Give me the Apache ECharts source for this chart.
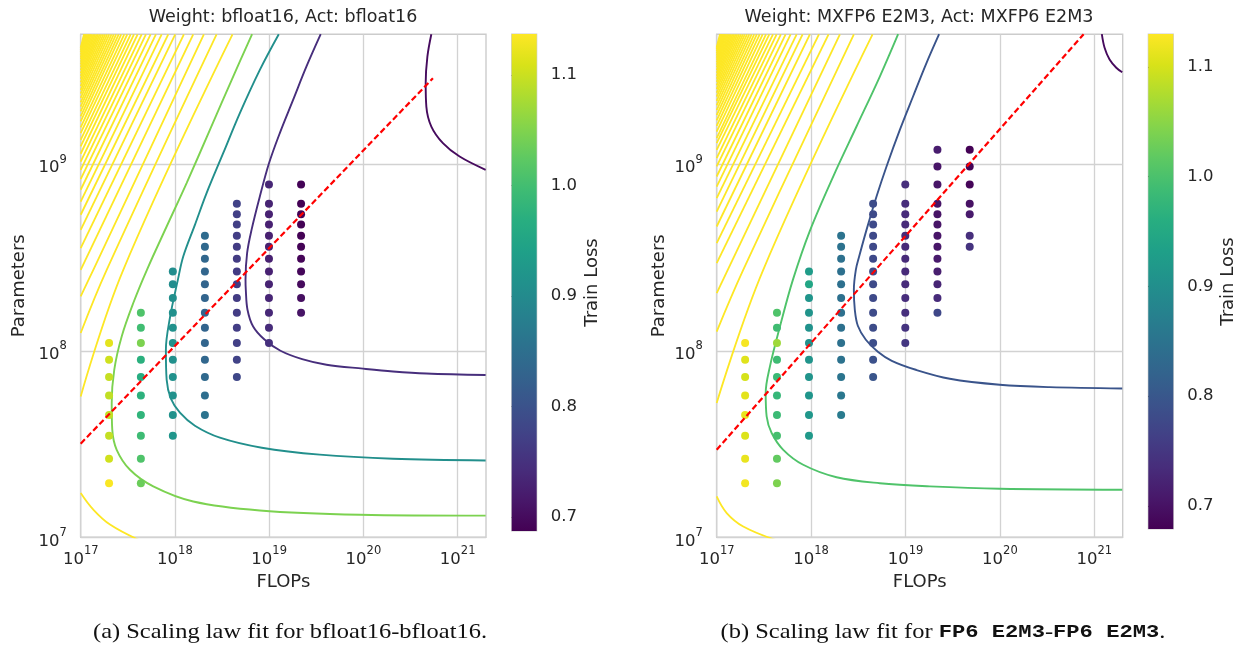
<!DOCTYPE html>
<html><head><meta charset="utf-8">
<script src="https://cdn.jsdelivr.net/npm/echarts@6.0.0/dist/echarts.min.js"></script>
<style>html,body{margin:0;padding:0;background:#fff}#chart{width:1242px;height:646px}</style>
</head><body><div id="chart"></div>
<script>
// ---------- measured runs: FLOPs budget per column, model sizes and final train loss ----------
const flops = [2.0e17, 4.35e17, 9.5e17, 2.08e18, 4.54e18, 9.95e18, 2.18e19, 4.79e19];

const paramsA = [
  [1.10e8, 8.95e7, 7.23e7, 5.76e7, 4.52e7, 3.50e7, 2.64e7, 1.95e7],
  [1.60e8, 1.33e8, 1.10e8, 8.95e7, 7.23e7, 5.76e7, 4.52e7, 3.50e7, 2.64e7, 1.95e7],
  [2.66e8, 2.27e8, 1.92e8, 1.60e8, 1.33e8, 1.10e8, 8.95e7, 7.23e7, 5.76e7, 4.52e7, 3.50e7],
  [4.13e8, 3.61e8, 3.11e8, 2.66e8, 2.27e8, 1.92e8, 1.60e8, 1.33e8, 1.10e8, 8.95e7, 7.23e7, 5.76e7, 4.52e7],
  [6.14e8, 5.40e8, 4.75e8, 4.13e8, 3.61e8, 3.11e8, 2.66e8, 2.27e8, 1.92e8, 1.60e8, 1.33e8, 1.10e8, 8.95e7, 7.23e7],
  [7.78e8, 6.14e8, 5.40e8, 4.75e8, 4.13e8, 3.61e8, 3.11e8, 2.66e8, 2.27e8, 1.92e8, 1.60e8, 1.33e8, 1.10e8],
  [7.78e8, 6.14e8, 5.40e8, 4.75e8, 4.13e8, 3.61e8, 3.11e8, 2.66e8, 2.27e8, 1.92e8, 1.60e8]
];
const lossA = [
  [1.118, 1.103, 1.097, 1.094, 1.094, 1.096, 1.104, 1.135],
  [1.011, 0.998, 1.047, 0.972, 0.966, 0.975, 0.980, 0.995, 1.011, 1.034],
  [0.905, 0.905, 0.908, 0.910, 0.912, 0.915, 0.910, 0.912, 0.913, 0.915, 0.920],
  [0.842, 0.838, 0.835, 0.833, 0.831, 0.830, 0.829, 0.830, 0.832, 0.835, 0.840, 0.848, 0.858],
  [0.775, 0.772, 0.770, 0.768, 0.766, 0.765, 0.764, 0.764, 0.765, 0.766, 0.768, 0.771, 0.776, 0.783],
  [0.735, 0.731, 0.729, 0.728, 0.727, 0.727, 0.727, 0.728, 0.730, 0.733, 0.737, 0.742, 0.748],
  [0.690, 0.689, 0.688, 0.688, 0.689, 0.690, 0.692, 0.695, 0.699, 0.704, 0.710]
];

const paramsB = [
  [1.10e8, 8.95e7, 7.23e7, 5.76e7, 4.52e7, 3.50e7, 2.64e7, 1.95e7],
  [1.60e8, 1.33e8, 1.10e8, 8.95e7, 7.23e7, 5.76e7, 4.52e7, 3.50e7, 2.64e7, 1.95e7],
  [2.66e8, 2.27e8, 1.92e8, 1.60e8, 1.33e8, 1.10e8, 8.95e7, 7.23e7, 5.76e7, 4.52e7, 3.50e7],
  [4.13e8, 3.61e8, 3.11e8, 2.66e8, 2.27e8, 1.92e8, 1.60e8, 1.33e8, 1.10e8, 8.95e7, 7.23e7, 5.76e7, 4.52e7],
  [6.14e8, 5.40e8, 4.75e8, 4.13e8, 3.61e8, 3.11e8, 2.66e8, 2.27e8, 1.92e8, 1.60e8, 1.33e8, 1.10e8, 8.95e7, 7.23e7],
  [7.78e8, 6.14e8, 5.40e8, 4.75e8, 4.13e8, 3.61e8, 3.11e8, 2.66e8, 2.27e8, 1.92e8, 1.60e8, 1.33e8, 1.10e8],
  [1.195e9, 9.72e8, 7.78e8, 6.14e8, 5.40e8, 4.75e8, 4.13e8, 3.61e8, 3.11e8, 2.66e8, 2.27e8, 1.92e8, 1.60e8],
  [1.195e9, 9.72e8, 7.78e8, 6.14e8, 5.40e8, 4.13e8, 3.61e8]
];
const lossB = [
  [1.125, 1.108, 1.100, 1.110, 1.115, 1.105, 1.115, 1.122],
  [1.004, 0.990, 1.063, 0.988, 0.983, 0.978, 0.985, 0.995, 1.020, 1.040],
  [0.925, 0.945, 0.912, 0.910, 0.906, 0.904, 0.910, 0.910, 0.912, 0.915, 0.920],
  [0.850, 0.848, 0.846, 0.845, 0.845, 0.844, 0.844, 0.845, 0.846, 0.848, 0.852, 0.857, 0.864],
  [0.782, 0.780, 0.779, 0.778, 0.778, 0.778, 0.779, 0.779, 0.780, 0.781, 0.783, 0.786, 0.790, 0.797],
  [0.738, 0.735, 0.733, 0.732, 0.731, 0.731, 0.731, 0.732, 0.733, 0.735, 0.739, 0.744, 0.750],
  [0.713, 0.703, 0.705, 0.703, 0.702, 0.703, 0.704, 0.706, 0.710, 0.716, 0.724, 0.733, 0.775],
  [0.680, 0.681, 0.684, 0.700, 0.710, 0.738, 0.745]
];

// colour range of each colorbar (train loss)
const lossRangeA = [0.6873, 1.1371];
const lossRangeB = [0.6790, 1.1300];
const cbarTicks = [0.7, 0.8, 0.9, 1.0, 1.1];

// axis ranges and decade ticks
const flopsRange = [1e17, 2e21];
const paramsRange = [1e7, 4.97e9];
const flopsTicks = [1e17, 1e18, 1e19, 1e20, 1e21];
const paramsTicks = [1e7, 1e8, 1e9];

// ---------- fitted iso-loss contours, points as [log10 FLOPs, log10 params] ----------
const contourLevelsA = [0.700, 0.745, 0.908, 1.047];
const contourA0 = [[20.721,9.697],[20.679,9.577],[20.661,9.435],[20.668,9.309],[20.721,9.202],[20.844,9.113],[21.021,9.041],[21.297,8.970]];
const contourA1 = [[19.547,9.697],[19.396,9.524],[19.254,9.345],[19.113,9.167],[18.999,9.006],[18.901,8.827],[18.813,8.648],[18.766,8.524],[18.749,8.380],[18.752,8.327],[18.770,8.220],[18.830,8.130],[18.950,8.060],[19.120,8.000],[19.350,7.955],[19.608,7.925],[19.996,7.904],[20.314,7.889],[20.668,7.878],[21.297,7.870]];
const contourA2 = [[19.102,9.697],[18.901,9.506],[18.689,9.274],[18.512,9.059],[18.336,8.845],[18.212,8.675],[18.088,8.505],[18.031,8.380],[17.947,8.177],[17.904,8.005],[17.912,7.845],[17.957,7.743],[18.053,7.668],[18.212,7.598],[18.477,7.534],[18.922,7.480],[19.537,7.443],[20.314,7.421],[21.297,7.412]];
const contourA3 = [[18.819,9.697],[18.618,9.470],[18.371,9.184],[18.124,8.899],[17.912,8.666],[17.703,8.434],[17.558,8.256],[17.435,8.077],[17.356,7.898],[17.329,7.720],[17.335,7.577],[17.382,7.469],[17.523,7.362],[17.770,7.273],[18.194,7.192],[18.901,7.144],[19.961,7.121],[21.297,7.116]];

const contourLevelsB = [0.690, 0.795, 1.004];
const contourB0 = [[21.080,9.697],[21.109,9.624],[21.162,9.561],[21.233,9.517],[21.296,9.493]];
const contourB1 = [[19.356,9.697],[19.222,9.542],[19.080,9.363],[18.940,9.184],[18.799,8.988],[18.693,8.827],[18.587,8.648],[18.509,8.505],[18.474,8.434],[18.453,8.327],[18.463,8.220],[18.495,8.134],[18.580,8.059],[18.707,7.995],[18.855,7.946],[19.109,7.898],[19.469,7.850],[19.998,7.818],[20.527,7.805],[21.296,7.798]];
const contourB2 = [[18.922,9.697],[18.728,9.470],[18.481,9.202],[18.234,8.934],[17.987,8.643],[17.807,8.380],[17.670,8.130],[17.564,7.916],[17.519,7.773],[17.529,7.648],[17.582,7.559],[17.705,7.469],[17.916,7.389],[18.270,7.322],[18.728,7.290],[19.257,7.273],[19.998,7.260],[21.296,7.255]];

// high-loss contours (above the colorbar range) crowding the small-data corner:
// where each meets the top edge (log10 FLOPs) and the left edge (log10 params)
const highTopsA = [18.611,18.442,18.307,18.194,18.095,18.003,17.929,17.859,17.798,17.742,17.692,17.647,17.604,17.565,17.530,17.494,17.462,17.430,17.403,17.376,17.351,17.327,17.303,17.281,17.260,17.240,17.220,17.202,17.185,17.170,17.154,17.139,17.124,17.110,17.096,17.084,17.071,17.058,17.047,17.035];
const highLeftsA = [7.755,8.095,8.291,8.434,8.550,8.648,8.729,8.799,8.863,8.920,8.970,9.014,9.056,9.095,9.131,9.166,9.198,9.229,9.256,9.283,9.308,9.332,9.356,9.378,9.399,9.419,9.439,9.457,9.474,9.489,9.505,9.520,9.535,9.549,9.563,9.575,9.588,9.601,9.612,9.624];
const highBendsA = [[17.452,8.434],[17.276,8.434],[17.134,8.434]];
const highLowA = [[17.0,7.237],[17.134,7.148],[17.311,7.068],[17.620,6.985]];

const highTopsB = [18.651,18.453,18.305,18.185,18.083,17.987,17.910,17.847,17.783,17.730,17.680,17.635,17.596,17.557,17.522,17.487,17.455,17.425,17.397,17.370,17.345,17.321,17.298,17.277,17.257,17.238,17.219,17.202,17.186,17.170,17.155,17.141,17.127,17.114,17.101,17.089,17.077,17.066,17.055,17.044,17.034];
const highLeftsB = [7.720,8.103,8.309,8.470,8.577,8.666,8.746,8.818,8.880,8.934,8.988,9.033,9.077,9.113,9.140,9.175,9.205,9.235,9.263,9.290,9.315,9.339,9.362,9.383,9.403,9.422,9.441,9.458,9.474,9.490,9.505,9.519,9.533,9.546,9.559,9.571,9.583,9.594,9.605,9.616,9.626];
const highBendsB = [[17.493,8.434],[17.281,8.434]];
const highLowB = [[17.0,7.219],[17.106,7.130],[17.281,7.058],[17.630,6.985]];

// compute-optimal frontier, [log10 FLOPs, log10 params]
const frontierA = [[17.0,7.502],[20.738,9.461]];
const frontierB = [[17.0,7.469],[20.887,9.697]];

// ---------- styling ----------
const FONT = '"DejaVu Sans", sans-serif';
const TXT = '#262626';
const GRID_C = '#d2d2d2';
const VIRIDIS = ['#440154','#48186a','#472d7b','#424086','#3b528b','#33638d','#2c728e','#26828e','#21918c','#1fa088','#28ae80','#3fbc73','#5ec962','#84d44b','#addc30','#d8e219','#fde725'];

function hexRgb(h){ return [parseInt(h.slice(1,3),16), parseInt(h.slice(3,5),16), parseInt(h.slice(5,7),16)]; }
function viridis(t){
  t = Math.max(0, Math.min(1, t));
  const p = t * (VIRIDIS.length - 1), i = Math.min(Math.floor(p), VIRIDIS.length - 2), f = p - i;
  const a = hexRgb(VIRIDIS[i]), b = hexRgb(VIRIDIS[i+1]);
  return 'rgb(' + a.map((v,k) => Math.round(v + (b[k]-v)*f)).join(',') + ')';
}
const levelColor = (lv, range) => viridis((lv - range[0]) / (range[1] - range[0]));
const toData = pts => pts.map(p => [Math.pow(10, p[0]), Math.pow(10, p[1])]);

function expLabel(extra){
  return Object.assign({
    color: TXT,
    formatter: v => '{b|10}{s|' + Math.round(Math.log10(v)) + '}',
    rich: {
      b: {fontSize: 16.5, fontFamily: FONT, color: TXT, lineHeight: 17, verticalAlign: 'bottom'},
      s: {fontSize: 11.5, fontFamily: FONT, color: TXT, lineHeight: 12, padding: [0,0,11,0], verticalAlign: 'bottom'}
    }
  }, extra);
}

const plotGrids = [
  {left: 80.7, top: 34.3, width: 405.3, height: 503},
  {left: 716.7, top: 34.3, width: 406, height: 503}
];
const cbarGrids = [
  {left: 511.7, top: 34, width: 25, height: 497},
  {left: 1148.3, top: 34, width: 25, height: 495}
];
const yNameGaps = [52, 48];
const cbarNameGaps = [47, 46];

const grid = [], xAxis = [], yAxis = [], series = [], visualMap = [];
const panels = [
  {params: paramsA, loss: lossA, range: lossRangeA, levels: contourLevelsA, contours: [contourA0, contourA1, contourA2, contourA3],
   tops: highTopsA, lefts: highLeftsA, bends: highBendsA, low: highLowA, frontier: frontierA},
  {params: paramsB, loss: lossB, range: lossRangeB, levels: contourLevelsB, contours: [contourB0, contourB1, contourB2],
   tops: highTopsB, lefts: highLeftsB, bends: highBendsB, low: highLowB, frontier: frontierB}
];

panels.forEach((P, k) => {
  const gi = grid.length;
  grid.push(Object.assign({show: true, borderColor: '#cccccc', borderWidth: 1.4, backgroundColor: '#ffffff'}, plotGrids[k]));
  grid.push(Object.assign({show: true, borderColor: '#cccccc', borderWidth: 1.2, backgroundColor: 'transparent'}, cbarGrids[k]));
  const xi = xAxis.length, yi = yAxis.length;
  xAxis.push({
    gridIndex: gi, type: 'log', logBase: 10, min: flopsRange[0], max: flopsRange[1],
    name: 'FLOPs', nameLocation: 'middle', nameGap: 36,
    nameTextStyle: {fontFamily: FONT, fontSize: 18, color: TXT},
    axisLine: {show: false}, axisTick: {show: false, customValues: flopsTicks},
    axisLabel: expLabel({customValues: flopsTicks, margin: 14}),
    splitLine: {show: true, lineStyle: {color: GRID_C, width: 1.3}}
  });
  yAxis.push({
    gridIndex: gi, type: 'log', logBase: 10, min: paramsRange[0], max: paramsRange[1],
    name: 'Parameters', nameLocation: 'middle', nameGap: yNameGaps[k],
    nameTextStyle: {fontFamily: FONT, fontSize: 18, color: TXT},
    axisLine: {show: false}, axisTick: {show: false, customValues: paramsTicks},
    axisLabel: expLabel({customValues: paramsTicks, margin: 14, padding: [8, 0, 0, 0]}),
    splitLine: {show: true, lineStyle: {color: GRID_C, width: 1.3}}
  });
  // colorbar axes
  xAxis.push({gridIndex: gi + 1, type: 'value', min: 0, max: 1, show: false});
  yAxis.push({
    gridIndex: gi + 1, type: 'value', position: 'right', min: P.range[0], max: P.range[1],
    name: 'Train Loss', nameLocation: 'middle', nameRotate: 90, nameGap: cbarNameGaps[k],
    nameTextStyle: {fontFamily: FONT, fontSize: 18, color: TXT},
    axisLine: {show: false},
    axisTick: {show: true, length: 6, customValues: cbarTicks, lineStyle: {color: '#333333', width: 1.2}},
    axisLabel: {customValues: cbarTicks, formatter: v => v.toFixed(1), margin: 14, fontFamily: FONT, fontSize: 16.5, color: TXT},
    splitLine: {show: false}
  });

  // high-loss contours in the corner
  P.tops.forEach((t, j) => {
    const pts = [[t, Math.log10(paramsRange[1])]];
    if (P.bends[j]) pts.push(P.bends[j]);
    pts.push([Math.log10(flopsRange[0]), P.lefts[j]]);
    series.push({type: 'line', xAxisIndex: xi, yAxisIndex: yi, data: toData(pts), smooth: P.bends[j] ? 0.4 : false,
      symbol: 'none', silent: true, z: 2, lineStyle: {color: levelColor(99, P.range), width: 1.8}});
  });
  series.push({type: 'line', xAxisIndex: xi, yAxisIndex: yi, data: toData(P.low), smooth: 0.4,
    symbol: 'none', silent: true, z: 2, lineStyle: {color: levelColor(99, P.range), width: 1.8}});

  // iso-loss contours within the colour range
  P.contours.forEach((c, j) => {
    series.push({type: 'line', xAxisIndex: xi, yAxisIndex: yi, data: toData(c), smooth: 0.35,
      symbol: 'none', silent: true, z: 2, lineStyle: {color: levelColor(P.levels[j], P.range), width: 1.9}});
  });

  // measured runs
  const pts = [];
  P.params.forEach((col, c) => col.forEach((n, r) => pts.push([flops[c], n, P.loss[c][r]])));
  visualMap.push({type: 'continuous', show: false, seriesIndex: series.length, dimension: 2,
    min: P.range[0], max: P.range[1], inRange: {color: VIRIDIS}});
  series.push({type: 'scatter', xAxisIndex: xi, yAxisIndex: yi, data: pts, symbolSize: 8, z: 3, silent: true,
    itemStyle: {opacity: 1}});

  // compute-optimal frontier
  series.push({type: 'line', xAxisIndex: xi, yAxisIndex: yi, data: toData(P.frontier), symbol: 'none', silent: true, z: 4,
    lineStyle: {color: '#ff0000', width: 2.2, type: [6, 3]}});

  // colorbar gradient
  const stops = VIRIDIS.map((c, i) => ({offset: 1 - i / (VIRIDIS.length - 1), color: c}));
  series.push({type: 'custom', xAxisIndex: xi + 1, yAxisIndex: yi + 1, data: [[0, P.range[0]]], silent: true, z: 1,
    renderItem: (params, api) => {
      const p0 = api.coord([0, P.range[1]]), p1 = api.coord([1, P.range[0]]);
      return {type: 'rect', shape: {x: p0[0], y: p0[1], width: p1[0] - p0[0], height: p1[1] - p0[1]},
        style: {fill: new echarts.graphic.LinearGradient(0, 0, 0, 1, stops.slice().reverse())}};
    }});
});

const serif = '"Liberation Serif", "DejaVu Serif", serif';
const mono = '"Liberation Mono", "DejaVu Sans Mono", monospace';
const graphic = [
  {type: 'text', x: 283, y: 17, style: {text: 'Weight: bfloat16, Act: bfloat16', font: '17.5px ' + FONT, fill: TXT, textAlign: 'center', textVerticalAlign: 'middle'}},
  {type: 'text', x: 919, y: 17, style: {text: 'Weight: MXFP6 E2M3, Act: MXFP6 E2M3', font: '17.5px ' + FONT, fill: TXT, textAlign: 'center', textVerticalAlign: 'middle'}},
  {type: 'text', x: 290, y: 632, scaleX: 1.165, style: {text: '(a) Scaling law fit for bfloat16-bfloat16.', font: '21px ' + serif, fill: '#111', textAlign: 'center', textVerticalAlign: 'middle'}},
  {type: 'text', x: 943, y: 632, scaleX: 1.165, style: {
    text: '{r|(b) Scaling law fit for }{m|FP6 E2M3}{r|-}{m|FP6 E2M3}{r|.}',
    textAlign: 'center', textVerticalAlign: 'middle',
    rich: {r: {fontFamily: serif, fontSize: 21, fill: '#111'}, m: {fontFamily: mono, fontSize: 19, fontWeight: 'bold', fill: '#111'}}
  }}
];

const chart = echarts.init(document.getElementById('chart'), null, {renderer: 'canvas'});
chart.setOption({animation: false, backgroundColor: '#ffffff', grid, xAxis, yAxis, visualMap, series, graphic});
</script></body></html>
